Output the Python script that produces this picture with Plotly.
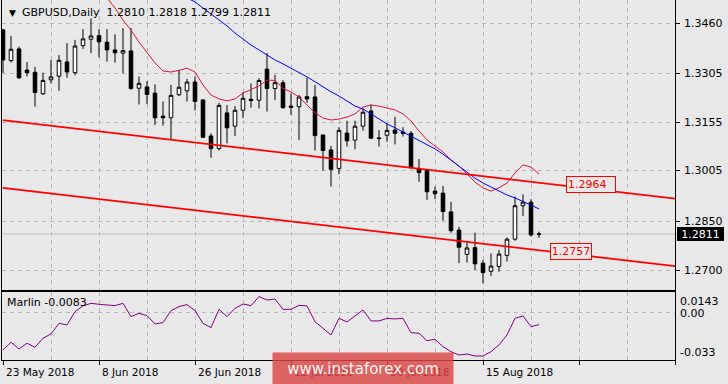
import plotly.graph_objects as go

# ---------------- data ----------------
bars = list(range(68))  # trading days 23 May 2018 .. 24 Aug 2018

open_ = [1.3440, 1.3345, 1.3381, 1.3316, 1.3309, 1.3243, 1.3286, 1.3297, 1.3341, 1.3308,
         1.3391, 1.3411, 1.3422, 1.3402, 1.3378, 1.3368, 1.3375, 1.3260, 1.3264, 1.3245,
         1.3174, 1.3169, 1.3240, 1.3252, 1.3279, 1.3224, 1.3113, 1.3074, 1.3184, 1.3143,
         1.3192, 1.3226, 1.3223, 1.3319, 1.3259, 1.3277, 1.3205, 1.3203, 1.3234, 1.3233,
         1.3116, 1.3070, 1.3013, 1.3122, 1.3100, 1.3143, 1.3190, 1.3107, 1.3115, 1.3131,
         1.3125, 1.3121, 1.3013, 1.3008, 1.2943, 1.2937, 1.2879, 1.2823, 1.2748, 1.2769,
         1.2721, 1.2696, 1.2711, 1.2745, 1.2795, 1.2898, 1.2909, 1.2810]
high = [1.3442, 1.3421, 1.3388, 1.3341, 1.3326, 1.3308, 1.3347, 1.3362, 1.3399, 1.3409,
        1.3442, 1.3475, 1.3442, 1.3442, 1.3426, 1.3445, 1.3445, 1.3296, 1.3282, 1.3272,
        1.3219, 1.3270, 1.3316, 1.3289, 1.3296, 1.3226, 1.3121, 1.3215, 1.3208, 1.3205,
        1.3248, 1.3275, 1.3291, 1.3368, 1.3301, 1.3285, 1.3244, 1.3239, 1.3292, 1.3270,
        1.3116, 1.3082, 1.3140, 1.3160, 1.3160, 1.3198, 1.3210, 1.3131, 1.3150, 1.3172,
        1.3140, 1.3128, 1.3042, 1.3010, 1.2957, 1.2959, 1.2910, 1.2833, 1.2789, 1.2815,
        1.2731, 1.2751, 1.2762, 1.2800, 1.2926, 1.2933, 1.2918, 1.2818]
low = [1.3307, 1.3339, 1.3289, 1.3296, 1.3203, 1.3239, 1.3275, 1.3252, 1.3292, 1.3300,
       1.3381, 1.3368, 1.3355, 1.3342, 1.3339, 1.3306, 1.3255, 1.3210, 1.3211, 1.3147,
       1.3145, 1.3101, 1.3236, 1.3219, 1.3191, 1.3106, 1.3046, 1.3068, 1.3090, 1.3113,
       1.3168, 1.3200, 1.3198, 1.3188, 1.3224, 1.3197, 1.3178, 1.3101, 1.3215, 1.3068,
       1.3006, 1.2957, 1.2995, 1.3080, 1.3072, 1.3129, 1.3105, 1.3080, 1.3095, 1.3087,
       1.3111, 1.3013, 1.2972, 1.2916, 1.2918, 1.2852, 1.2815, 1.2721, 1.2723, 1.2700,
       1.2659, 1.2682, 1.2695, 1.2726, 1.2790, 1.2866, 1.2803, 1.2799]
close = [1.3347, 1.3380, 1.3292, 1.3308, 1.3247, 1.3284, 1.3295, 1.3346, 1.3310, 1.3390,
         1.3412, 1.3421, 1.3403, 1.3378, 1.3369, 1.3376, 1.3259, 1.3275, 1.3241, 1.3169,
         1.3169, 1.3238, 1.3263, 1.3279, 1.3219, 1.3109, 1.3074, 1.3207, 1.3138, 1.3192,
         1.3229, 1.3222, 1.3284, 1.3259, 1.3277, 1.3200, 1.3201, 1.3233, 1.3227, 1.3114,
         1.3068, 1.3010, 1.3130, 1.3098, 1.3143, 1.3186, 1.3106, 1.3105, 1.3130, 1.3121,
         1.3121, 1.3015, 1.3000, 1.2941, 1.2935, 1.2880, 1.2821, 1.2770, 1.2768, 1.2719,
         1.2692, 1.2712, 1.2749, 1.2795, 1.2898, 1.2909, 1.2808, 1.2811]

# red (fast) moving average, bars 13..67
ma_red_start = 13
ma_red = [1.3538, 1.3507, 1.3470, 1.3439, 1.3402, 1.3369, 1.3338, 1.3313, 1.3310, 1.3315,
          1.3322, 1.3310, 1.3270, 1.3239, 1.3227, 1.3221, 1.3227, 1.3245, 1.3255, 1.3267,
          1.3285, 1.3284, 1.3260, 1.3248, 1.3233, 1.3208, 1.3184, 1.3168, 1.3162, 1.3165,
          1.3171, 1.3181, 1.3202, 1.3208, 1.3205, 1.3199, 1.3193, 1.3181, 1.3159, 1.3128,
          1.3101, 1.3082, 1.3064, 1.3039, 1.3020, 1.2996, 1.2971, 1.2953, 1.2943, 1.2953,
          1.2968, 1.2999, 1.3024, 1.3017, 1.2996]
# blue (slow) moving average, bars 23..67
ma_blue_start = 23
ma_blue = [1.3538, 1.3526, 1.3507, 1.3489, 1.3470, 1.3452, 1.3430, 1.3412, 1.3393, 1.3378,
           1.3362, 1.3347, 1.3335, 1.3322, 1.3307, 1.3295, 1.3280, 1.3264, 1.3249, 1.3236,
           1.3221, 1.3205, 1.3196, 1.3181, 1.3165, 1.3150, 1.3138, 1.3125, 1.3113, 1.3101,
           1.3088, 1.3073, 1.3057, 1.3039, 1.3020, 1.3002, 1.2983, 1.2968, 1.2955, 1.2943,
           1.2931, 1.2922, 1.2912, 1.2900, 1.2888]

# trend channel lines (bar index, price)
channel_x = [-0.04, 84]
upper_line = [1.3162, 1.2920]
lower_line = [1.2953, 1.2712]
upper_label = "1.2964"
lower_label = "1.2757"

# Marlin oscillator
marlin = [-0.0260, -0.0206, -0.0253, -0.0213, -0.0241, -0.0178, -0.0148, -0.0074, -0.0085, 0.0008,
          0.0048, 0.0066, 0.0059, 0.0052, 0.0050, 0.0066, -0.0027, -0.0004, -0.0020, -0.0078,
          -0.0069, 0.0015, 0.0043, 0.0057, 0.0015, -0.0074, -0.0104, 0.0024, -0.0027, 0.0031,
          0.0061, 0.0050, 0.0113, 0.0089, 0.0096, 0.0024, 0.0024, 0.0052, 0.0048, -0.0062,
          -0.0109, -0.0155, -0.0039, -0.0064, -0.0022, 0.0020, -0.0057, -0.0057, -0.0039, -0.0043,
          -0.0039, -0.0139, -0.0143, -0.0195, -0.0185, -0.0237, -0.0272, -0.0295, -0.0288, -0.0302,
          -0.0302, -0.0272, -0.0225, -0.0155, -0.0039, -0.0022, -0.0097, -0.0083]

# axes
price_ticks = [1.3460, 1.3305, 1.3155, 1.3005, 1.2850, 1.2700]
price_labels = ["1.3460", "1.3305", "1.3155", "1.3005", "1.2850", "1.2700"]
date_tick_idx = [0, 12, 24, 36, 48, 60]
date_labels = ["23 May 2018", "8 Jun 2018", "26 Jun 2018", "12 Jul 2018", "30 Jul 2018", "15 Aug 2018"]
ind_labels = ["0.0143", "0.00", "-0.033"]

# ---------------- figure ----------------
BG = "#e8e8e8"
GRID = "#b8b8b8"
DASH = "4px,4px"
FONT = "DejaVu Sans"

fig = go.Figure()
fig.add_trace(go.Candlestick(
    x=bars, open=open_, high=high, low=low, close=close,
    increasing=dict(line=dict(color="black", width=1), fillcolor="white"),
    decreasing=dict(line=dict(color="black", width=1), fillcolor="black"),
    whiskerwidth=0, hoverinfo="skip", showlegend=False, xaxis="x", yaxis="y"))
fig.add_trace(go.Scatter(x=bars[ma_red_start:], y=ma_red, mode="lines",
                         line=dict(color="#dc143c", width=1), hoverinfo="skip"))
fig.add_trace(go.Scatter(x=bars[ma_blue_start:], y=ma_blue, mode="lines",
                         line=dict(color="#0000ff", width=1), hoverinfo="skip"))
fig.add_trace(go.Scatter(x=channel_x, y=upper_line, mode="lines",
                         line=dict(color="#ff0000", width=1.8), hoverinfo="skip"))
fig.add_trace(go.Scatter(x=channel_x, y=lower_line, mode="lines",
                         line=dict(color="#ff0000", width=1.8), hoverinfo="skip"))
fig.add_trace(go.Scatter(x=bars, y=marlin, mode="lines", xaxis="x2", yaxis="y2",
                         line=dict(color="#800080", width=1), hoverinfo="skip"))

last_close = close[-1]
fig.add_shape(type="line", xref="x domain", x0=0, x1=1, yref="y", y0=last_close, y1=last_close,
              line=dict(color="#c0c0c0", width=1), layer="below")

ymax = 1.3460 + 23.3 / 3246
ymin = 1.3460 - 266.7 / 3246

xax_common = dict(range=[-0.125, 84], tickmode="linear", tick0=0, dtick=12,
                  showgrid=True, gridcolor=GRID, griddash=DASH, gridwidth=1,
                  minor=dict(tick0=0, dtick=6, showgrid=True, gridcolor=GRID, griddash=DASH, ticks=""),
                  zeroline=False, showline=True, linecolor="black", linewidth=1)

fig.update_layout(
    width=728, height=384, margin=dict(l=2, r=53, t=0, b=24),
    paper_bgcolor=BG, plot_bgcolor=BG, showlegend=False, boxgap=0.36,
    font=dict(family=FONT, size=11, color="black"),
    xaxis=dict(domain=[0, 1], anchor="y", showticklabels=False, ticks="",
               rangeslider=dict(visible=False), **xax_common),
    yaxis=dict(domain=[0.19444, 1], anchor="x", side="right", range=[ymin, ymax],
               tickmode="array", tickvals=price_ticks, showticklabels=False,
               ticks="outside", ticklen=4, tickcolor="black",
               showgrid=True, gridcolor=GRID, griddash=DASH, zeroline=False,
               showline=True, mirror=True, linecolor="black", linewidth=1),
    xaxis2=dict(domain=[0, 1], anchor="y2", matches="x", showticklabels=False,
                ticks="outside", ticklen=4, tickcolor="black", mirror=True, **xax_common),
    yaxis2=dict(domain=[0, 0.18806], anchor="x2", side="right", range=[-0.033, 0.0143],
                tickmode="array", tickvals=[0], showticklabels=False, ticks="",
                showgrid=True, gridcolor=GRID, griddash=DASH, zeroline=False,
                showline=True, mirror=True, linecolor="black", linewidth=1),
)

ann = []
# price scale labels
for v, lab in zip(price_ticks, price_labels):
    ann.append(dict(xref="paper", yref="y", x=(682 - 2) / 673, y=v, xanchor="left",
                    yanchor="middle", text=lab, showarrow=False, font=dict(size=11, color="black")))
# title
ann.append(dict(xref="paper", yref="paper", x=(7 - 2) / 673, y=1 - 13 / 360, xanchor="left",
                yanchor="middle", text="▼", showarrow=False, font=dict(size=9, color="black")))
title_text = "GBPUSD,Daily\u00a0\u00a0" + " ".join(f"{v:.4f}" for v in
                                              [open_[-1], high[-1], low[-1], close[-1]])
ann.append(dict(xref="paper", yref="paper", x=(20 - 2) / 673, y=1 - 13 / 360, xanchor="left",
                yanchor="middle", text=title_text, showarrow=False, font=dict(size=11, color="black")))
# indicator name
ann.append(dict(xref="paper", yref="paper", x=(5 - 2) / 673, y=1 - 302 / 360, xanchor="left",
                yanchor="middle", text=f"Marlin {marlin[-1]:.4f}", showarrow=False,
                font=dict(size=11, color="black")))
# indicator scale labels
for txt, ypx in zip(ind_labels, [301.7, 313.3, 352.7]):
    ann.append(dict(xref="paper", yref="paper", x=(678 - 2) / 673, y=1 - ypx / 360, xanchor="left",
                    yanchor="middle", text=txt, showarrow=False, font=dict(size=11, color="black")))
# current price tag
ann.append(dict(xref="paper", yref="y", x=1, xshift=1.5, y=last_close, xanchor="left",
                yanchor="middle", text=f"{last_close:.4f}", showarrow=False,
                bgcolor="black", font=dict(size=11, color="white"),
                width=47, height=14, borderpad=0, borderwidth=0))
# channel labels
ann.append(dict(xref="x", yref="y", x=70.4, y=float(upper_label), xanchor="left", yanchor="middle",
                text=upper_label, showarrow=False, font=dict(size=11, color="#ff0000"),
                bgcolor=BG, bordercolor="#ff0000", borderwidth=1, borderpad=1, width=46, align="left"))
ann.append(dict(xref="x", yref="y", x=68.4, y=float(lower_label), xanchor="left", yanchor="middle",
                text=lower_label, showarrow=False, font=dict(size=11, color="#ff0000"),
                bgcolor=BG, bordercolor="#ff0000", borderwidth=1, borderpad=1, width=38, align="center"))
# date labels
for idx, lab in zip(date_tick_idx, date_labels):
    ann.append(dict(xref="x2", yref="paper", x=idx, xshift=1, y=1 - 372 / 360, xanchor="left",
                    yanchor="middle", text=lab, showarrow=False, font=dict(size=10.5, color="black")))
# watermark
ann.append(dict(xref="paper", yref="paper", x=(272 - 2) / 673, y=1 - 352 / 360, xanchor="left",
                yanchor="top", text="www.instaforex.com", showarrow=False,
                bgcolor="rgba(220,70,70,0.82)", width=180, height=32, borderpad=0,
                font=dict(family=FONT, size=15, color="#fff4f4")))
fig.update_layout(annotations=ann)

fig.write_html("out.html", config={"displayModeBar": False, "staticPlot": True},
               post_script="document.body.style.margin='0';document.body.style.overflow='hidden';")
